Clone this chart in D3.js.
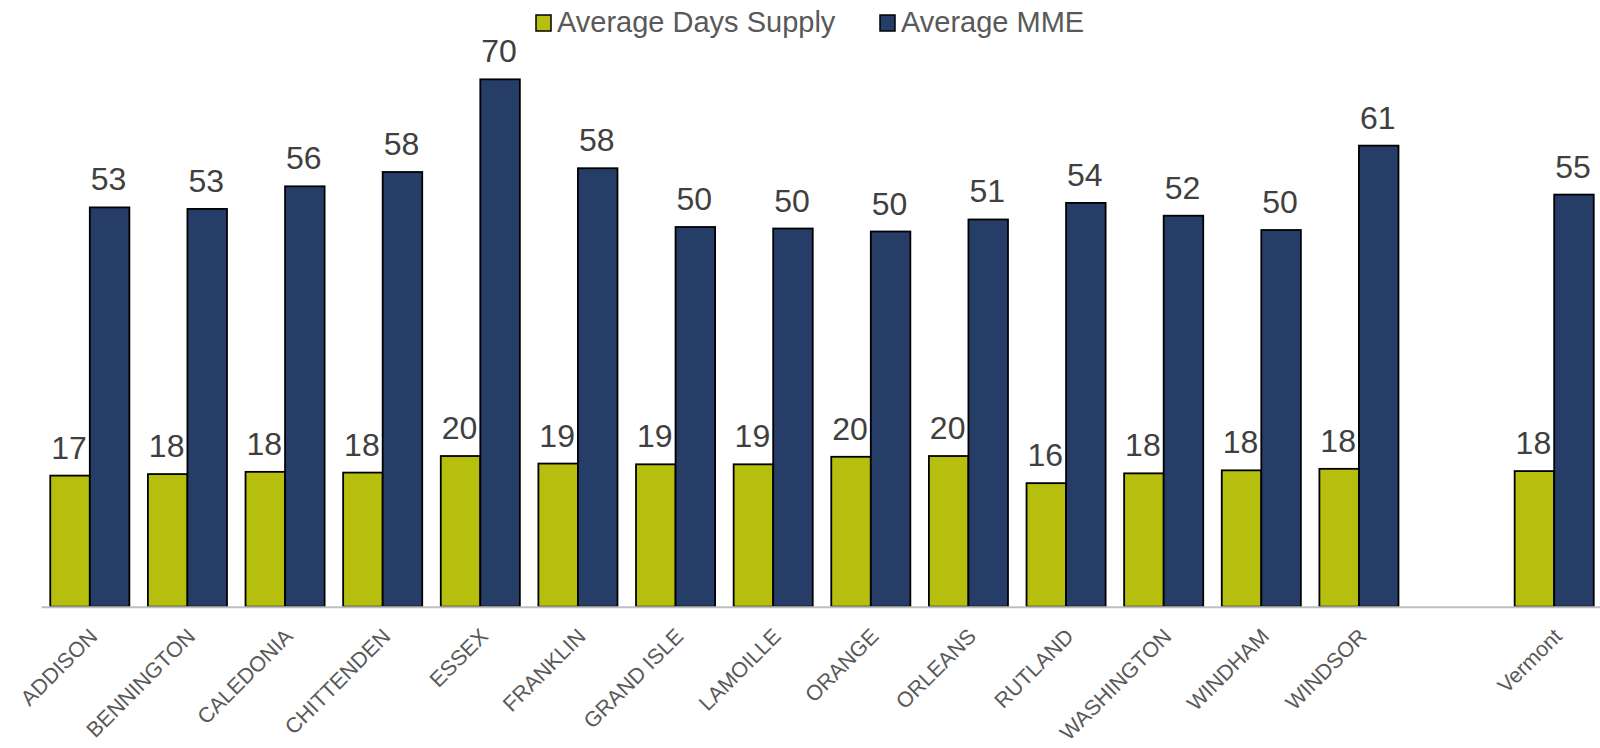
<!DOCTYPE html>
<html lang="en">
<head>
  <meta charset="UTF-8">
  <title>Average Days Supply and Average MME by County</title>
  <script src="https://d3js.org/d3.v7.min.js"></script>
  <style>
    body {
      margin: 0;
      background: #fff;
      font-family: 'Liberation Sans', Arial, sans-serif;
    }
    .bar-label {
      fill: #404040;
      font-size: 32px;
      text-anchor: middle;
    }
    .legend text {
      fill: #595959;
      font-size: 29px;
    }
    .x-axis text {
      fill: #595959;
      font-size: 21.5px;
    }
  </style>
</head>
<body>
  <svg id="chart" width="1600" height="748"></svg>

  <script>
    // counties, with an empty slot before the state total
    const counties = ["ADDISON", "BENNINGTON", "CALEDONIA", "CHITTENDEN", "ESSEX", "FRANKLIN",
      "GRAND ISLE", "LAMOILLE", "ORANGE", "ORLEANS", "RUTLAND", "WASHINGTON", "WINDHAM",
      "WINDSOR", "", "Vermont"];
    const seriesNames = ["Average Days Supply", "Average MME"];
    const daysSupply = [17.4, 17.6, 17.9, 17.8, 20.0, 19.0, 18.9, 18.9, 19.9, 20.0, 16.4, 17.7, 18.1, 18.3, null, 18.0];
    const avgMME = [53.0, 52.8, 55.8, 57.7, 70.0, 58.2, 50.4, 50.2, 49.8, 51.4, 53.6, 51.9, 50.0, 61.2, null, 54.7];
    const colors = ["#b6be0e", "#263d67"];

    const dataset = counties.map((c, i) => ({
      county: c,
      values: [daysSupply[i], avgMME[i]]
    }));

    const svg = d3.select("#chart");
    const baseline = 606.7;

    const x = d3.scaleBand()
      .domain(counties.map((c, i) => c || "blank" + i))
      .range([41, 1603])
      .paddingInner(0.19)
      .paddingOuter(0.095);

    const x1 = d3.scaleBand()
      .domain(seriesNames)
      .range([0, x.bandwidth()]);

    const y = d3.scaleLinear()
      .domain([0, 80])
      .range([baseline, 4]);

    const keyOf = (d, i) => d.county || "blank" + i;

    // bars
    const groups = svg.selectAll(".group")
      .data(dataset)
      .enter()
      .append("g")
      .attr("class", "group")
      .attr("transform", (d, i) => `translate(${x(keyOf(d, i))},0)`);

    groups.selectAll("rect")
      .data(d => d.values.map((v, j) => ({ v, j })).filter(e => e.v != null))
      .enter()
      .append("rect")
      .attr("x", e => x1(seriesNames[e.j]))
      .attr("y", e => y(e.v))
      .attr("width", x1.bandwidth())
      .attr("height", e => baseline - y(e.v))
      .attr("fill", e => colors[e.j])
      .attr("stroke", "#000")
      .attr("stroke-width", 1.8);

    groups.selectAll(".bar-label")
      .data(d => d.values.map((v, j) => ({ v, j })).filter(e => e.v != null))
      .enter()
      .append("text")
      .attr("class", "bar-label")
      .attr("x", e => x1(seriesNames[e.j]) + x1.bandwidth() / 2 - 1)
      .attr("y", e => y(e.v) - 17)
      .text(e => Math.round(e.v));

    // x axis
    const xAxis = svg.append("g")
      .attr("class", "x-axis")
      .attr("transform", `translate(0,${baseline})`)
      .call(d3.axisBottom(x).tickSize(0).tickSizeOuter(0)
        .tickFormat(k => k.startsWith("blank") ? "" : k));

    xAxis.select(".domain")
      .attr("stroke", "#bfbfbf")
      .attr("stroke-width", 2);

    xAxis.selectAll("text")
      .attr("font-family", "'Liberation Sans', Arial, sans-serif")
      .attr("y", 0)
      .attr("dy", 0)
      .attr("text-anchor", "end")
      .attr("transform", "translate(9,31) rotate(-45)");

    // legend
    const legendX = [536, 880];
    const legend = svg.append("g").attr("class", "legend");
    seriesNames.forEach((name, i) => {
      legend.append("rect")
        .attr("x", legendX[i])
        .attr("y", 15)
        .attr("width", 15)
        .attr("height", 16)
        .attr("fill", colors[i])
        .attr("stroke", "#000")
        .attr("stroke-width", 1.5);
      legend.append("text")
        .attr("x", legendX[i] + 21)
        .attr("y", 32)
        .text(name);
    });
  </script>
</body>
</html>
